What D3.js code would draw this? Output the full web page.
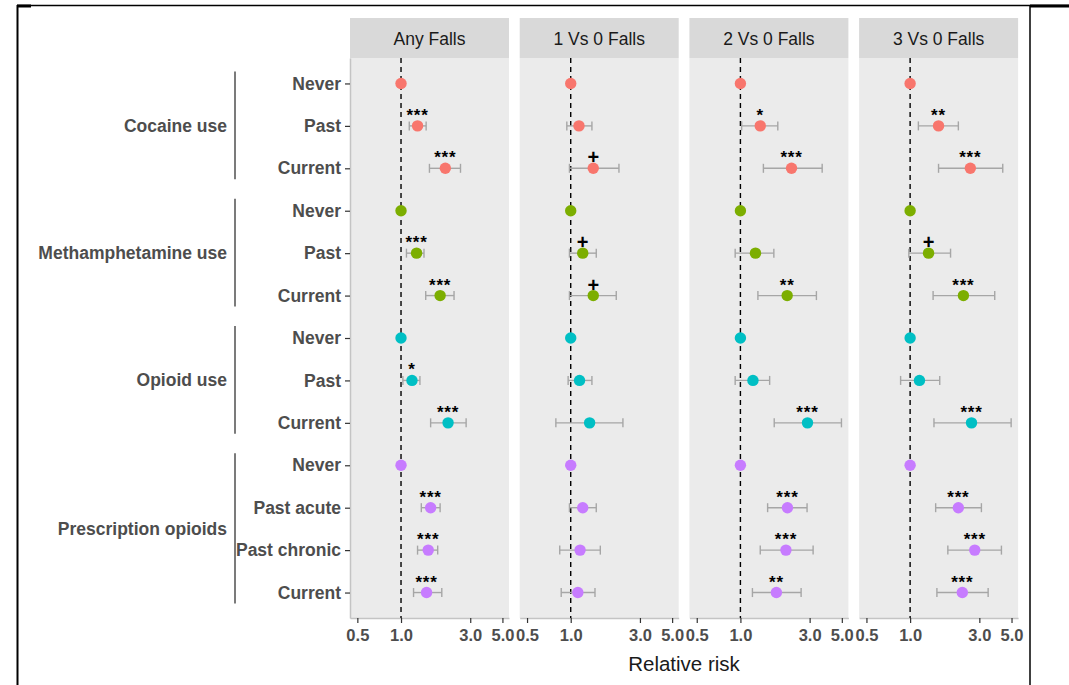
<!DOCTYPE html>
<html><head><meta charset="utf-8">
<script src="https://cdn.jsdelivr.net/npm/d3@7"></script>
<style>
html,body{margin:0;padding:0;background:#fff;}
svg{display:block;font-family:"Liberation Sans",Arial,sans-serif;}
</style></head>
<body><svg id="chart" width="1069" height="685"></svg>
<script>
// ---- data ----
const outcomes = ["Any Falls","1 Vs 0 Falls","2 Vs 0 Falls","3 Vs 0 Falls"];
const groups = ["Cocaine use","Methamphetamine use","Opioid use","Prescription opioids"];
const groupLevels = [
  ["Never","Past","Current"],
  ["Never","Past","Current"],
  ["Never","Past","Current"],
  ["Never","Past acute","Past chronic","Current"]
];
const groupColors = ["#F8766D","#7CAE00","#00BFC4","#C77CFF"];
const xTicks = [0.5,1,3,5];

const anyRR  = [1,1.30,2.02, 1,1.28,1.86, 1,1.19,2.11, 1,1.60,1.54,1.50];
const anyLo  = [null,1.14,1.57, null,1.09,1.48, null,1.03,1.60, null,1.38,1.30,1.22];
const anyHi  = [null,1.49,2.57, null,1.44,2.32, null,1.35,2.81, null,1.86,1.79,1.91];
const anySig = ["","***","***", "","***","***", "","*","***", "","***","***","***"];

const oneRR  = [1,1.14,1.43, 1,1.21,1.43, 1,1.15,1.35, 1,1.21,1.16,1.12];
const oneLo  = [null,0.94,0.98, null,0.98,0.98, null,0.96,0.79, null,0.98,0.84,0.86];
const oneHi  = [null,1.40,2.15, null,1.50,2.06, null,1.40,2.29, null,1.50,1.60,1.47];
const oneSig = ["","","+", "","+","+", "","","", "","","",""];

const twoRR  = [1,1.37,2.25, 1,1.27,2.10, 1,1.22,2.90, 1,2.11,2.06,1.77];
const twoLo  = [null,1.02,1.44, null,0.92,1.32, null,0.92,1.71, null,1.54,1.37,1.21];
const twoHi  = [null,1.81,3.66, null,1.70,3.34, null,1.59,4.97, null,2.88,3.17,2.62];
const twoSig = ["","*","***", "","","**", "","","***", "","***","***","**"];

const threeRR  = [1,1.57,2.60, 1,1.34,2.33, 1,1.16,2.65, 1,2.15,2.79,2.29];
const threeLo  = [null,1.14,1.57, null,0.98,1.44, null,0.86,1.46, null,1.50,1.82,1.53];
const threeHi  = [null,2.15,4.35, null,1.90,3.83, null,1.60,4.97, null,3.10,4.26,3.45];
const threeSig = ["","**","***", "","+","***", "","","***", "","***","***","***"];

const panelData = [
  {rr:anyRR, lo:anyLo, hi:anyHi, sig:anySig},
  {rr:oneRR, lo:oneLo, hi:oneHi, sig:oneSig},
  {rr:twoRR, lo:twoLo, hi:twoHi, sig:twoSig},
  {rr:threeRR, lo:threeLo, hi:threeHi, sig:threeSig}
];

// ---- rows ----
const rows = [];
groupLevels.forEach((lv,gi)=>lv.forEach(l=>rows.push({key:gi+"|"+l, group:gi, level:l})));

// ---- layout ----
const svg = d3.select("#chart");
const panelW = 159, panelStep = 169.7, panelLeft = 350;
const panelTop = 58, panelBottom = 618;
const stripTop = 18;

const y = d3.scalePoint().domain(rows.map(r=>r.key)).range([panelTop,panelBottom]).padding(0.6);
const x = d3.scaleLog().domain([0.445,5.55]).range([0,panelW]);

// frame lines
svg.append("line").attr("x1",17).attr("x2",1069).attr("y1",5.5).attr("y2",5.5).attr("stroke","#000").attr("stroke-width",1.5);
svg.append("line").attr("x1",17).attr("x2",31).attr("y1",6).attr("y2",6).attr("stroke","#000").attr("stroke-width",3);
svg.append("line").attr("x1",1030).attr("x2",1069).attr("y1",6).attr("y2",6).attr("stroke","#000").attr("stroke-width",3);
svg.append("line").attr("x1",17.5).attr("x2",17.5).attr("y1",5).attr("y2",685).attr("stroke","#000").attr("stroke-width",2);
svg.append("line").attr("x1",1030).attr("x2",1030).attr("y1",5).attr("y2",685).attr("stroke","#000").attr("stroke-width",1.5);

outcomes.forEach((name,pi)=>{
  const g = svg.append("g").attr("transform",`translate(${panelLeft+pi*panelStep},0)`);
  // strip
  g.append("rect").attr("x",0).attr("y",stripTop).attr("width",panelW).attr("height",panelTop-stripTop).attr("fill","#d9d9d9");
  g.append("text").attr("x",panelW/2).attr("y",(stripTop+panelTop)/2+6.5).attr("text-anchor","middle")
    .attr("font-size","17.5px").attr("fill","#1a1a1a").text(name);
  // panel
  g.append("rect").attr("x",0).attr("y",panelTop).attr("width",panelW).attr("height",panelBottom-panelTop).attr("fill","#ebebeb");
  // x axis
  const ax = g.append("g").attr("transform",`translate(0,${panelBottom})`)
    .call(d3.axisBottom(x).tickValues(xTicks).tickFormat(d3.format(".1f")).tickSize(5).tickSizeOuter(0));
  ax.select(".domain").attr("stroke","#c4c4c4").attr("stroke-width",1.5);
  ax.selectAll(".tick line").attr("stroke","#333").attr("stroke-width",1.2);
  ax.selectAll(".tick text").attr("font-size","16.5px").attr("font-weight","bold").attr("fill","#4d4d4d")
    .attr("font-family","'Liberation Sans',Arial,sans-serif").attr("dy","0.9em");
  // reference line
  g.append("line").attr("x1",x(1)).attr("x2",x(1)).attr("y1",panelTop).attr("y2",panelBottom)
    .attr("stroke","#000").attr("stroke-width",1.4).attr("stroke-dasharray","5,4");
  const d = panelData[pi];
  const pts = rows.map((r,i)=>({row:r, rr:d.rr[i], lo:d.lo[i], hi:d.hi[i], sig:d.sig[i]}));
  const eb = pts.filter(p=>p.lo!=null);
  const ebG = g.append("g").attr("stroke","#a6a6a6").attr("stroke-width",1.4);
  ebG.selectAll("line.h").data(eb).join("line").attr("class","h")
    .attr("x1",p=>x(p.lo)).attr("x2",p=>x(p.hi)).attr("y1",p=>y(p.row.key)).attr("y2",p=>y(p.row.key));
  ebG.selectAll("line.l").data(eb).join("line").attr("class","l")
    .attr("x1",p=>x(p.lo)).attr("x2",p=>x(p.lo)).attr("y1",p=>y(p.row.key)-4.5).attr("y2",p=>y(p.row.key)+4.5);
  ebG.selectAll("line.r").data(eb).join("line").attr("class","r")
    .attr("x1",p=>x(p.hi)).attr("x2",p=>x(p.hi)).attr("y1",p=>y(p.row.key)-4.5).attr("y2",p=>y(p.row.key)+4.5);
  g.selectAll("circle").data(pts).join("circle")
    .attr("cx",p=>x(p.rr)).attr("cy",p=>y(p.row.key)).attr("r",5.7)
    .attr("fill",p=>groupColors[p.row.group]);
  g.selectAll("text.sig").data(pts.filter(p=>p.sig!=="")).join("text").attr("class","sig")
    .attr("x",p=>x(p.rr)).attr("text-anchor","middle")
    .attr("y",p=>p.sig==="+" ? y(p.row.key)-4 : y(p.row.key)-5)
    .attr("font-size",p=>p.sig==="+" ? "20px" : "17px").attr("font-weight","bold").attr("fill","#000")
    .attr("letter-spacing",p=>p.sig==="+" ? "0" : "0.8px")
    .text(p=>p.sig);
});

// y axis (first panel)
const ay = svg.append("g").attr("transform",`translate(${panelLeft},0)`)
  .call(d3.axisLeft(y).tickFormat(k=>k.split("|")[1]).tickSize(5).tickSizeOuter(0).tickPadding(4));
ay.select(".domain").attr("stroke","#c4c4c4").attr("stroke-width",1.5);
ay.selectAll(".tick line").attr("stroke","#333").attr("stroke-width",1.2);
ay.selectAll(".tick text").attr("font-size","17.5px").attr("font-weight","bold").attr("fill","#4d4d4d")
  .attr("font-family","'Liberation Sans',Arial,sans-serif");

// group labels + brackets
groupLevels.forEach((lv,gi)=>{
  const ys = lv.map(l=>y(gi+"|"+l));
  const y0 = d3.min(ys), y1 = d3.max(ys);
  svg.append("line").attr("x1",235).attr("x2",235).attr("y1",y0-12).attr("y2",y1+11)
    .attr("stroke","#5a5a5a").attr("stroke-width",1.6);
  svg.append("text").attr("x",227).attr("y",(y0+y1)/2+6).attr("text-anchor","end")
    .attr("font-size","17.5px").attr("font-weight","bold").attr("fill","#4d4d4d").text(groups[gi]);
});

// x title
svg.append("text").attr("x",684).attr("y",671).attr("text-anchor","middle")
  .attr("font-size","20.5px").attr("fill","#1a1a1a").text("Relative risk");
</script></body></html>
